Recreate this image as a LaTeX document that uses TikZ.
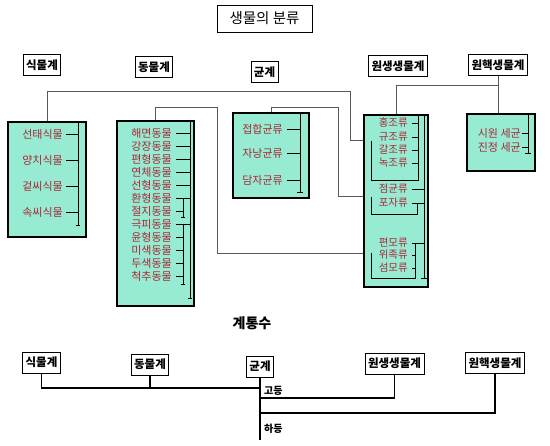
\documentclass[tikz,border=0pt]{standalone}
\usepackage{fontspec}
\setmainfont{Noto Sans CJK KR}
\usetikzlibrary{positioning}
\definecolor{boxfill}{RGB}{150,235,210}
\definecolor{itemred}{RGB}{170,40,55}

\begin{document}
\begin{tikzpicture}[x=1pt, y=-1pt]
    \tikzstyle{titlebox}=[draw=black, line width=0.8pt, minimum width=95pt, minimum height=27pt, inner sep=0pt, font=\fontsize{14.5}{16}\selectfont]
    \tikzstyle{kbox}=[draw=black, line width=0.8pt, minimum height=21pt, inner xsep=3pt, inner ysep=0pt, font=\fontsize{11.5}{13}\selectfont\bfseries]
    \tikzstyle{gbox}=[draw=black, line width=1.6pt, fill=boxfill, inner sep=0pt]
    \tikzstyle{itemtxt}=[text=itemred, anchor=east, inner sep=0pt, font=\fontsize{11}{12}\selectfont]
    \tikzstyle{linkline}=[draw=black!65, line width=0.7pt]
    \tikzstyle{treeline}=[draw=black, line width=1.5pt]
    \tikzstyle{barline}=[draw=black, line width=0.9pt]

    \useasboundingbox (0,0) rectangle (550,446);

    \node[titlebox] (title) at (264.5,18.5) {생물의 분류};

    \node[kbox] (sikT) at (42,65) {식물계};
    \node[kbox] (dongT) at (154,67) {동물계};
    \node[kbox] (gyunT) at (264.5,72) {균계};
    \node[kbox] (wonT) at (398,66) {원생생물계};
    \node[kbox] (haekT) at (498,65) {원핵생물계};

    \node[gbox, minimum width=78pt, minimum height=115pt] (sikG) at (47,179.5) {};
    \node[gbox, minimum width=77pt, minimum height=185pt] (dongG) at (155.5,213.5) {};
    \node[gbox, minimum width=76pt, minimum height=85pt] (gyunG) at (271,155.5) {};
    \node[gbox, minimum width=64pt, minimum height=172pt] (wonG) at (396,201) {};
    \node[gbox, minimum width=68pt, minimum height=57pt] (haekG) at (501,142.5) {};

    \draw[linkline] (sikG.north) |- (350,91) |- ([yshift=-26pt]wonG.north west);
    \draw[linkline] (dongG.north) |- (217,107) |- ([yshift=-139pt]wonG.north west);
    \draw[linkline] (gyunG.north) |- (338,107) |- ([yshift=-82pt]wonG.north west);
    \draw[linkline] (haekT.south) -- (haekT.south |- haekG.north);
    \draw[linkline] ([yshift=-9pt]haekT.south) -| (wonG.north);

    % plants
    \foreach \nm/\txt/\y in {s1/선태식물/134, s2/양치식물/160, s3/겉씨식물/186, s4/속씨식물/212} {
        \node[itemtxt] (\nm) at (63,\y) {\txt};
        \draw[barline] ([xshift=3pt]\nm.east) -- (78,\y);
    }
    \draw[barline] (78,122) -- (78,225) (76,225) -- (80,225);

    % animals
    \foreach \nm/\txt/\y/\e in {d1/해면동물/133/190, d2/강장동물/146/190, d3/편형동물/159/190, d4/연체동물/172/190, d5/선형동물/185/190, d6/환형동물/198/190, d7/절지동물/211/183, d8/극피동물/224/190, d9/윤형동물/237/183, d10/미색동물/250/183, d11/두색동물/263/183, d12/척추동물/276/183} {
        \node[itemtxt] (\nm) at (172,\y) {\txt};
        \draw[barline] ([xshift=4pt]\nm.east) -- (\e,\y);
    }
    \draw[barline] (190,121) -- (190,298) (188,298) -- (192,298);
    \draw[barline] (183,198) -- (183,217) (181,217) -- (185,217);
    \draw[barline] (183,224) -- (183,284) (181,284) -- (185,284);

    % fungi
    \foreach \nm/\txt/\y in {g1/접합균류/129, g2/자낭균류/153, g3/담자균류/180} {
        \node[itemtxt] (\nm) at (283,\y) {\txt};
        \draw[barline] ([xshift=4pt]\nm.east) -- (300,\y);
    }
    \draw[barline] (300,113) -- (300,192) (297,192) -- (303,192);

    % protists
    \foreach \nm/\txt/\y/\e in {w1/홍조류/123/418, w2/규조류/137/418, w3/갈조류/150/418, w4/녹조류/163/418, w5/점균류/189/424, w6/포자류/203/424, w7/편모류/243/424, w8/위족류/255/415, w9/섬모류/268/415} {
        \node[itemtxt, font=\fontsize{10.5}{12}\selectfont] (\nm) at (408,\y) {\txt};
        \draw[barline] ([xshift=4pt]\nm.east) -- (\e,\y);
    }
    \draw[barline] (424,115) -- (424,278) (421,278) -- (427,278);
    \draw[barline] (418,115) -- (418,180) -- (371,180) -- (371,141);
    \draw[barline] (417,203) -- (417,214) -- (371,214) -- (371,197);
    \draw[barline] (415,243) -- (415,278) -- (371,278) -- (371,253);

    % prokaryotes
    \foreach \nm/\txt/\y in {h1/시원 세균/133, h2/진정 세균/147} {
        \node[itemtxt] (\nm) at (521,\y) {\txt};
        \draw[barline] ([xshift=1pt]\nm.east) -- (528,\y);
    }
    \draw[barline] (528,114) -- (528,153) (525,153) -- (531,153);

    % phylogeny
    \node[font=\fontsize{14}{16}\selectfont\bfseries] (tree) at (252,323) {계통수};

    \node[kbox] (sikB) at (41.5,362.5) {식물계};
    \node[kbox] (dongB) at (150,364.5) {동물계};
    \node[kbox] (gyunB) at (260,366.5) {균계};
    \node[kbox] (wonB) at (394.5,363.5) {원생생물계};
    \node[kbox] (haekB) at (495,363) {원핵생물계};

    \coordinate (hiJoin) at (260,388);
    \coordinate (wonJoin) at (260,398);
    \coordinate (haekJoin) at (260,413);
    \coordinate (lowEnd) at (260,440);

    \draw[treeline] (gyunB.south) -- (lowEnd);
    \draw[treeline] (sikB.south) |- (hiJoin);
    \draw[treeline] (dongB.south) -- (dongB.south |- hiJoin);
    \draw[treeline] (wonB.south) |- (wonJoin);
    \draw[treeline] (haekB.south) |- (haekJoin);

    \node[anchor=west, inner sep=0pt, font=\fontsize{10}{12}\selectfont\bfseries] (high) at (264,391) {고등};
    \node[anchor=west, inner sep=0pt, font=\fontsize{10}{12}\selectfont\bfseries] (low) at (264,429) {하등};
\end{tikzpicture}
\end{document}
